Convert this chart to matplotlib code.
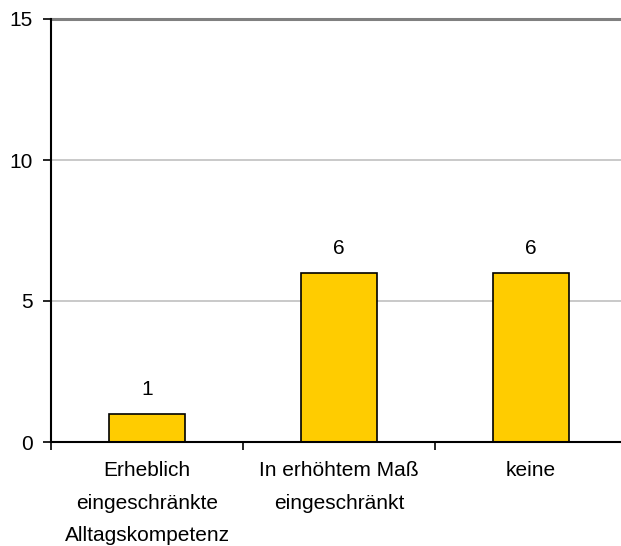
import matplotlib
matplotlib.use("Agg")
import matplotlib.pyplot as plt

categories = ["Erheblich\neingeschränkte\nAlltagskompetenz",
              "In erhöhtem Maß\neingeschränkt",
              "keine"]
values = [1, 6, 6]
y_ticks = [0, 5, 10, 15]

plt.rcParams['font.family'] = ['Liberation Sans', 'DejaVu Sans']
FS = 15

fig = plt.figure(figsize=(6.21, 5.46), dpi=100)
ax = fig.add_axes([51 / 621, 1 - 442 / 546, 576 / 621, 423 / 546])

x = list(range(len(categories)))
bars = ax.bar(x, values, width=0.4, color="#FFCC00", edgecolor="black",
              linewidth=1.2, zorder=3)

for xi, v in zip(x, values):
    ax.annotate(str(v), (xi, v), xytext=(0, 11), textcoords="offset points",
                ha="center", va="bottom", fontsize=FS)

ax.set_xlim(-0.5, len(categories) - 0.5)
ax.set_ylim(0, 15)
ax.set_yticks(y_ticks)
ax.set_yticklabels([str(t) for t in y_ticks], fontsize=FS)

# gridlines; the top one marks the plot area border
for t in y_ticks[1:-1]:
    ax.axhline(t, color="#C0C0C0", linewidth=1.2, zorder=1)
ax.axhline(15, color="#808080", linewidth=2.2, zorder=1, clip_on=False)

ax.set_xticks([i - 0.5 for i in range(len(categories) + 1)])
ax.set_xticklabels([])
ax.set_xticks(x, minor=True)
ax.set_xticklabels(categories, minor=True, fontsize=FS, linespacing=1.9)
ax.tick_params(axis="x", which="minor", length=0, pad=14)
ax.tick_params(axis="x", which="major", length=6, width=1.2, direction="out")
ax.tick_params(axis="y", length=6, width=1.2, direction="out", pad=7)

for side in ["top", "right"]:
    ax.spines[side].set_visible(False)
for side in ["left", "bottom"]:
    ax.spines[side].set_linewidth(1.5)
    ax.spines[side].set_zorder(4)

fig.savefig("out.png", dpi=100)
